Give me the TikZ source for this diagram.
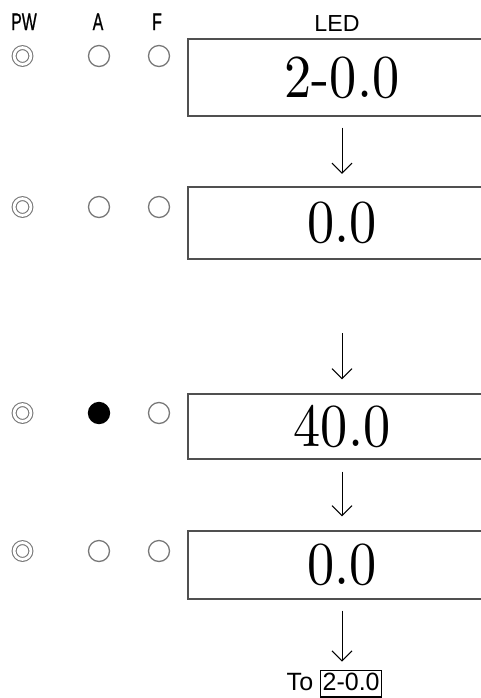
\documentclass[tikz,border=0pt]{standalone}
\usepackage{fontspec}
\usetikzlibrary{positioning, arrows.meta}
\newfontfamily\ledfont[FakeStretch=0.89]{lmroman10-regular.otf}
\newfontfamily\headfont[FakeStretch=0.66, FakeBold=0.6]{Liberation Sans}
\newfontfamily\labelfont{Liberation Sans}
\definecolor{lampgray}{RGB}{120,120,120}
\definecolor{framegray}{RGB}{80,80,80}
\tikzset{
  ledbox/.style  = {draw=framegray, line width=0.6pt, minimum width=154pt,
                    inner sep=0pt, font=\ledfont\fontsize{30.5}{30.5}\selectfont},
  lamp/.style    = {circle, draw=lampgray, line width=0.65pt,
                    minimum size=10.5pt, inner sep=0pt},
  lampon/.style  = {lamp, draw=black, fill=black},
  pwlamp/.style  = {circle, draw=lampgray, line width=0.55pt, double,
                    double distance=1.4pt, minimum size=8.4pt, inner sep=0pt},
  headlbl/.style = {font=\headfont\fontsize{12}{14}\selectfont,
                    anchor=base, inner sep=0pt},
  ledlbl/.style  = {font=\labelfont\fontsize{11.6}{14}\selectfont,
                    anchor=base, inner sep=0pt},
  ledarr/.style  = {-{Straight Barb[length=5pt, width=10pt]}, line width=0.5pt},
}

\begin{document}
\begin{tikzpicture}[x=0.5pt, y=-0.5pt]
  \useasboundingbox (0,0) rectangle (481,698);
  % Header
  \node[headlbl] (hpw) at (24,30) {PW};
  \node[headlbl] (ha) at (98,30) {A};
  \node[headlbl] (hf) at (157,30) {F};
  \node[ledlbl] (hled) at (337,31.5) {LED};
  % Step 1
  \node[pwlamp] (pw1) at (22.5,56) {};
  \node[lamp] (a1) at (99,56) {};
  \node[lamp] (f1) at (159,56) {};
  \node[ledbox, minimum height=38.5pt] (led1) at (342,77.5) {2-0.0};
  % Step 2
  \node[pwlamp] (pw2) at (22.5,207) {};
  \node[lamp] (a2) at (99,207) {};
  \node[lamp] (f2) at (159,207) {};
  \node[ledbox, minimum height=36pt] (led2) at (342,223) {0.0};
  % Step 3
  \node[pwlamp] (pw3) at (22.5,413) {};
  \node[lampon] (a3) at (99,413) {};
  \node[lamp] (f3) at (159,413) {};
  \node[ledbox, minimum height=32.5pt] (led3) at (342,426.5) {40.0};
  % Step 4
  \node[pwlamp] (pw4) at (22.5,551) {};
  \node[lamp] (a4) at (99,551) {};
  \node[lamp] (f4) at (159,551) {};
  \node[ledbox, minimum height=34pt] (led4) at (342,565) {0.0};
  % Back to start
  \node[ledlbl, font=\labelfont\fontsize{12.5}{15}\selectfont] (back) at (334.5,690)
    {To \setlength{\fboxsep}{0.6pt}\setlength{\fboxrule}{0.7pt}%
     \fbox{\rule[-2.5pt]{0pt}{11pt}2-0.0}};
  % Arrows
  \coordinate (gap) at (342,333);
  \draw[ledarr, shorten <=5.5pt, shorten >=6.3pt] (led1) -- (led2);
  \draw[ledarr, shorten >=7pt] (gap) -- (led3);
  \draw[ledarr, shorten <=6pt, shorten >=7pt] (led3) -- (led4);
  \draw[ledarr, shorten <=5.5pt, shorten >=4pt] (led4.south) -- (led4.south |- back.north);
\end{tikzpicture}
\end{document}
